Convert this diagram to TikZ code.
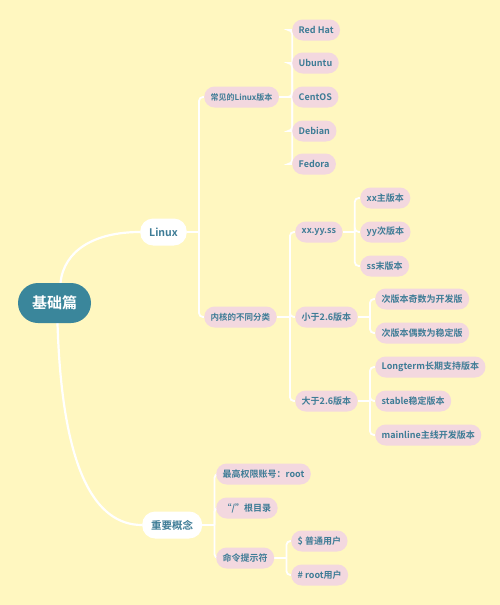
\documentclass[tikz,border=0pt]{standalone}
\usepackage{fontspec}
\setmainfont{Noto Sans CJK SC}[BoldFont={Noto Sans CJK SC Bold}]
\usetikzlibrary{calc,backgrounds}
\definecolor{bg}{HTML}{FFF7C0}
\definecolor{pinkf}{HTML}{F3D8DF}
\definecolor{tealt}{HTML}{3E7C96}
\definecolor{rootf}{HTML}{3A869B}
\tikzset{
  leaf/.style={anchor=west, fill=pinkf, text=tealt, font=\bfseries\fontsize{9}{10}\selectfont, rounded corners=10.5pt, minimum height=21pt, inner xsep=6.5pt, inner ysep=0pt},
  mid/.style={leaf, font=\bfseries\fontsize{8}{9}\selectfont},
  main/.style={anchor=west, fill=white, text=tealt, font=\bfseries\fontsize{10.5}{11}\selectfont, rounded corners=13pt, minimum height=27pt, inner xsep=9pt},
  rootn/.style={fill=rootf, text=white, font=\bfseries\fontsize{15}{16}\selectfont, rounded corners=20pt, minimum height=40pt, minimum width=73pt},
  conn/.style={draw=white, line width=1.8pt, rounded corners=4pt},
  curv/.style={draw=white, line width=2.2pt},
}
\begin{document}
\begin{tikzpicture}[x=1pt,y=-1pt]
\useasboundingbox (0,0) rectangle (500,605);
% nodes
\node[rootn] (root) at (54.5,303) {基础篇};
\node[main] (linux) at (140,232) {Linux};
\node[main] (imp) at (142,525) {重要概念};
\node[mid] (dist) at (204,97) {常见的Linux版本};
\node[mid, font=\bfseries\fontsize{8.5}{9}\selectfont] (kern) at (204,317) {内核的不同分类};
\node[leaf] (rh) at (292,30) {Red Hat};
\node[leaf] (ub) at (292,63) {Ubuntu};
\node[leaf] (ce) at (292,97) {CentOS};
\node[leaf] (de) at (292,131) {Debian};
\node[leaf] (fe) at (292,164) {Fedora};
\node[leaf] (xy) at (295,232) {xx.yy.ss};
\node[leaf] (lt) at (295,317) {小于2.6版本};
\node[leaf] (gt) at (295,401) {大于2.6版本};
\node[leaf] (xx) at (360,198) {xx主版本};
\node[leaf] (yy) at (360,232) {yy次版本};
\node[leaf] (ss) at (360,266) {ss末版本};
\node[leaf] (odd) at (375,299) {次版本奇数为开发版};
\node[leaf] (even) at (375,333) {次版本偶数为稳定版};
\node[leaf] (long) at (375,367) {Longterm长期支持版本};
\node[leaf] (stab) at (375,401) {stable稳定版本};
\node[leaf] (mainl) at (375,435) {mainline主线开发版本};
\node[leaf] (rootacc) at (216,474) {最高权限账号：root};
\node[leaf] (slash) at (216,508) {“/”根目录};
\node[leaf] (prompt) at (216,558) {命令提示符};
\node[leaf] (dollar) at (291,541) {\$ 普通用户};
\node[leaf] (hash) at (291,575) {\# root用户};
\begin{scope}[on background layer]
\fill[bg] (0,0) rectangle (500,605);
\draw[curv] ($(root.north)+(6,0)$) .. controls (64,250) and (95,232) .. (linux.west);
\draw[curv] ($(root.south)+(3,0)$) .. controls (62,470) and (95,525) .. (imp.west);
\foreach \p/\d/\kids in {linux/12/{dist,kern}, dist/13/{rh,ub,ce,de,fe}, kern/13/{xy,lt,gt}, xy/12/{xx,yy,ss}, lt/12/{odd,even}, gt/12/{long,stab,mainl}, imp/12/{rootacc,slash,prompt}, prompt/12/{dollar,hash}}{
  \draw[conn] (\p.east) -- ++(\d,0);
  \foreach \c in \kids {
    \draw[conn] ($(\p.east)+(\d,0)$) |- (\c.west);
  }
}
\end{scope}
\end{tikzpicture}
\end{document}
